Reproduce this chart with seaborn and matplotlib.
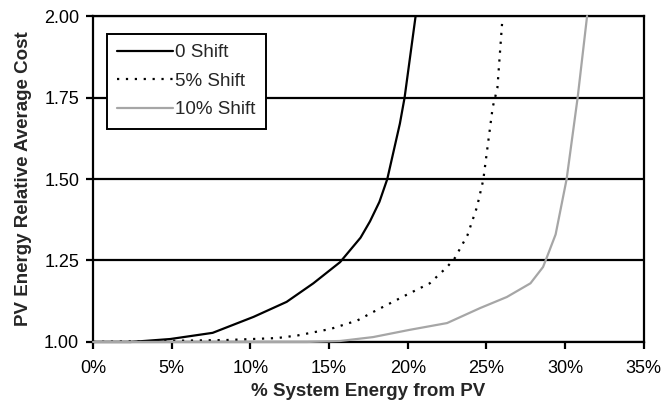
import matplotlib
matplotlib.use("Agg")
import matplotlib.pyplot as plt
from matplotlib.ticker import PercentFormatter, FormatStrFormatter
import seaborn as sns
import pandas as pd

# Share of system energy supplied by PV (%) and the relative average cost
series_names = ["0 Shift", "5% Shift", "10% Shift"]

zero_shift_pct = [0, 2.4, 4.9, 7.6, 10.2, 12.3, 14.0, 15.7, 17.0, 17.6, 18.2, 18.7, 19.5, 19.8, 20.5]
zero_shift_cost = [1.0, 1.0, 1.009, 1.028, 1.077, 1.123, 1.18, 1.245, 1.32, 1.37, 1.43, 1.5, 1.67, 1.75, 2.0]

five_shift_pct = [0, 8.5, 11.7, 13.0, 15.1, 16.8, 17.8, 19.9, 21.4, 22.5, 23.0, 23.8, 24.4, 24.8, 25.4, 25.7, 26.0]
five_shift_cost = [1.0, 1.006, 1.012, 1.02, 1.04, 1.066, 1.092, 1.144, 1.18, 1.23, 1.258, 1.328, 1.414, 1.497, 1.72, 1.78, 1.98]

ten_shift_pct = [0, 13.6, 15.7, 17.8, 20.1, 22.5, 24.6, 26.3, 27.8, 28.6, 28.9, 29.4, 30.1, 30.8, 31.4]
ten_shift_cost = [1.0, 1.0, 1.003, 1.015, 1.037, 1.058, 1.104, 1.138, 1.18, 1.23, 1.267, 1.33, 1.5, 1.75, 2.0]

x_ticks = [0, 5, 10, 15, 20, 25, 30, 35]
y_ticks = [1.00, 1.25, 1.50, 1.75, 2.00]

frames = []
for name, xs, ys in zip(series_names,
                        [zero_shift_pct, five_shift_pct, ten_shift_pct],
                        [zero_shift_cost, five_shift_cost, ten_shift_cost]):
    frames.append(pd.DataFrame({"pct": xs, "cost": ys, "series": name}))
df = pd.concat(frames, ignore_index=True)

sns.set_style("white")
plt.rcParams["font.family"] = ["Liberation Sans", "DejaVu Sans"]

fig = plt.figure(figsize=(6.65, 4.13), dpi=100)
ax = fig.add_axes([0.14, 0.172, 0.828, 0.789])

palette = {"0 Shift": "black", "5% Shift": "black", "10% Shift": "#a6a6a6"}
dashes = {"0 Shift": "", "5% Shift": (1, 3), "10% Shift": ""}

sns.lineplot(data=df, x="pct", y="cost", hue="series", style="series",
             hue_order=series_names, style_order=series_names,
             palette=palette, dashes=dashes, sort=False, estimator=None,
             linewidth=1.6, ax=ax)

for line in ax.get_lines():
    line.set_zorder(4)
    line.set_clip_on(False)

ax.set_xlim(0, 35)
ax.set_ylim(1.0, 2.0)
ax.set_xticks(x_ticks)
ax.set_yticks(y_ticks)
ax.xaxis.set_major_formatter(PercentFormatter(decimals=0))
ax.yaxis.set_major_formatter(FormatStrFormatter("%.2f"))

ax.yaxis.grid(True, color="black", linewidth=1.6)
ax.xaxis.grid(False)
ax.set_axisbelow(True)

for spine in ax.spines.values():
    spine.set_visible(True)
    spine.set_color("black")
    spine.set_linewidth(1.6)

ax.tick_params(axis="both", direction="out", length=5, width=1.6,
               color="black", labelsize=13, labelcolor="black", pad=5)
ax.tick_params(axis="x", bottom=True, pad=8)
ax.tick_params(axis="y", left=True)

ax.set_xlabel("% System Energy from PV", fontsize=13.5, fontweight="bold", labelpad=4)
ax.set_ylabel("PV Energy Relative Average Cost", fontsize=13.5, fontweight="bold", labelpad=9)

leg = ax.legend(loc="upper left", bbox_to_anchor=(0.025, 0.945), title=None,
                fontsize=13.5, frameon=True, fancybox=False, edgecolor="black",
                framealpha=1, handlelength=3.0, handletextpad=0.1,
                labelspacing=0.6, borderpad=0.55, borderaxespad=0)
leg.get_frame().set_linewidth(1.4)
for h in leg.get_lines():
    h.set_linewidth(1.6)

fig.savefig("out.png", dpi=100)
